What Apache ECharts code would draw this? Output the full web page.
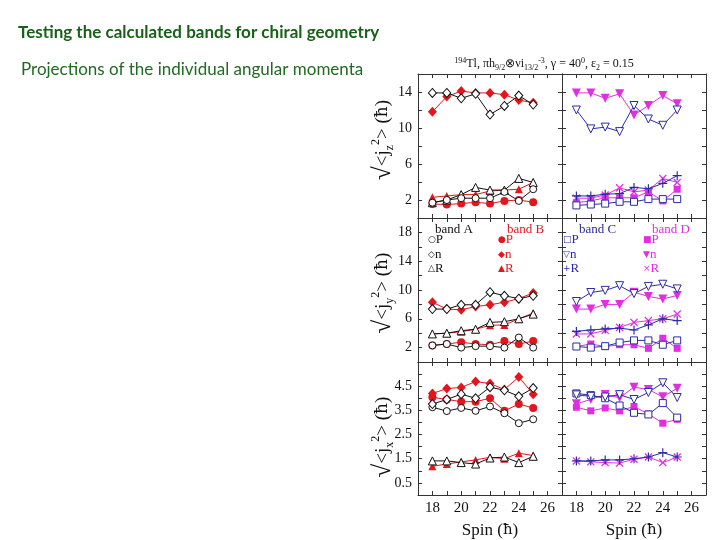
<!DOCTYPE html>
<html><head><meta charset="utf-8">
<script src="https://cdn.jsdelivr.net/npm/echarts@6/dist/echarts.min.js"></script>
<style>html,body{margin:0;padding:0;background:#fff}#c{width:720px;height:540px}</style>
</head><body><div id="c"></div>
<script>
const spins = [18,19,20,21,22,23,24,25];
const xTickLabels = [18,20,22,24,26];
// <j_z^2>^(1/2)
const jz_A_P = [1.7,2.0,2.2,2.2,2.2,2.9,1.9,3.2];
const jz_A_n = [13.9,13.9,13.3,13.8,11.5,12.45,13.6,12.6];
const jz_A_R = [1.7,2.0,2.6,3.4,3.1,3.1,4.4,3.95];
const jz_B_P = [1.55,1.5,1.6,1.75,1.6,1.9,2.0,1.75];
const jz_B_n = [11.8,13.5,14.1,13.9,13.9,13.7,13.1,12.8];
const jz_B_R = [2.3,2.45,2.6,2.6,3.0,3.1,3.2,3.95];
const jz_C_P = [1.4,1.5,1.6,1.8,1.8,2.1,2.1,2.1];
const jz_C_n = [12.0,9.9,10.1,9.6,12.5,11.0,10.3,12.0];
const jz_C_R = [2.45,2.45,2.65,2.7,3.4,3.25,3.85,4.7];
const jz_D_P = [1.7,1.9,2.25,2.25,2.25,2.9,1.9,3.2];
const jz_D_n = [13.9,13.9,13.3,13.8,11.45,12.5,13.6,12.7];
const jz_D_R = [2.2,2.2,2.55,3.35,2.9,3.1,4.4,3.95];
// <j_y^2>^(1/2)
const jy_A_P = [2.3,2.5,2.0,2.2,2.2,2.0,3.4,2.0];
const jy_A_n = [7.35,7.35,7.95,7.95,9.7,9.2,8.8,9.2];
const jy_A_R = [3.9,4.0,4.35,4.55,5.5,5.6,6.0,6.65];
const jy_B_P = [2.3,2.5,2.75,2.5,2.4,2.9,2.5,2.9];
const jy_B_n = [8.3,7.35,7.25,7.7,7.95,8.3,8.8,9.6];
const jy_B_R = [3.9,4.0,4.2,4.55,5.1,5.15,6.0,6.8];
const jy_C_P = [2.15,2.0,2.2,2.7,3.0,3.0,2.4,3.0];
const jy_C_n = [8.4,9.65,9.95,10.6,9.5,10.5,10.8,10.15];
const jy_C_R = [4.25,4.45,4.6,4.7,4.45,5.15,6.0,5.75];
const jy_D_P = [2.15,2.5,2.15,2.4,2.4,1.9,3.3,1.9];
const jy_D_n = [7.35,7.35,8.0,8.0,9.7,9.1,8.75,9.25];
const jy_D_R = [3.9,3.9,4.4,4.8,5.5,5.75,6.0,6.65];
// <j_x^2>^(1/2)
const jx_A_P = [3.63,3.47,3.6,3.48,3.66,3.38,2.97,3.13];
const jx_A_n = [3.76,3.95,4.17,4.0,4.46,4.33,4.08,4.42];
const jx_A_R = [1.41,1.41,1.34,1.28,1.53,1.57,1.34,1.6];
const jx_B_P = [4.04,3.95,3.86,3.86,4.0,3.48,3.76,3.6];
const jx_B_n = [4.2,4.4,4.45,4.69,4.61,4.36,4.88,4.17];
const jx_B_R = [1.19,1.28,1.37,1.45,1.56,1.5,1.73,1.63];
const jx_C_P = [4.2,4.13,4.0,3.7,3.4,3.33,3.8,3.2];
const jx_C_n = [4.14,4.08,4.05,4.15,3.95,4.24,4.64,4.03];
const jx_C_R = [1.41,1.41,1.45,1.45,1.5,1.57,1.75,1.57];
const jx_D_P = [3.63,3.48,3.6,3.48,3.66,3.35,2.97,3.13];
const jx_D_n = [3.77,3.95,4.16,4.02,4.46,4.36,4.06,4.41];
const jx_D_R = [1.41,1.37,1.34,1.32,1.48,1.57,1.34,1.57];

const COL = {A:'#111111', B:'#e3161d', C:'#2b2ba6', D:'#e02ee0'};
const PLUS = 'path://M4.35,0H5.65V4.35H10V5.65H5.65V10H4.35V5.65H0V4.35H4.35Z';
// [symbol, rotate, hollow, size]
const SYM = {
  A:{P:['circle',0,true,7], n:['diamond',0,true,[8,9]], R:['triangle',0,true,8]},
  B:{P:['circle',0,false,8], n:['diamond',0,false,[9,10]], R:['triangle',0,false,8]},
  C:{P:['rect',0,true,7], n:['triangle',180,true,8], R:[PLUS,0,false,9]},
  D:{P:['rect',0,false,7], n:['triangle',180,false,9], R:[PLUS,45,false,10]}
};
const panels = [
  {g:0, bands:['A','B'], d:{A:{P:jz_A_P,n:jz_A_n,R:jz_A_R}, B:{P:jz_B_P,n:jz_B_n,R:jz_B_R}}},
  {g:1, bands:['C','D'], d:{C:{P:jz_C_P,n:jz_C_n,R:jz_C_R}, D:{P:jz_D_P,n:jz_D_n,R:jz_D_R}}},
  {g:2, bands:['A','B'], d:{A:{P:jy_A_P,n:jy_A_n,R:jy_A_R}, B:{P:jy_B_P,n:jy_B_n,R:jy_B_R}}},
  {g:3, bands:['C','D'], d:{C:{P:jy_C_P,n:jy_C_n,R:jy_C_R}, D:{P:jy_D_P,n:jy_D_n,R:jy_D_R}}},
  {g:4, bands:['A','B'], d:{A:{P:jx_A_P,n:jx_A_n,R:jx_A_R}, B:{P:jx_B_P,n:jx_B_n,R:jx_B_R}}},
  {g:5, bands:['C','D'], d:{C:{P:jx_C_P,n:jx_C_n,R:jx_C_R}, D:{P:jx_D_P,n:jx_D_n,R:jx_D_R}}}
];
const yRanges = [[0,16,2],[0,16,2],[0,20,2],[0,20,2],[0,5.5,0.5],[0,5.5,0.5]];

const L = [418, 562], T = [74, 218, 362], W = 144, H = 144;
const grids = [], xAxes = [], yAxes = [], series = [];
const SERIF = 'Liberation Serif';
const AX = '#333';
for (let g = 0; g < 6; g++) {
  const col = g % 2, row = Math.floor(g / 2);
  grids.push({left: L[col], top: T[row], width: W, height: H});
  const bottomRow = row === 2;
  ['bottom','top'].forEach((pos, k) => {
    xAxes.push({type:'value', gridIndex:g, position:pos, min:17, max:27, interval:1,
      axisLine:{show:true, onZero:false, lineStyle:{color:AX, width:1}},
      axisTick:{show:true, inside:true, length:4, lineStyle:{color:AX}},
      axisLabel:{show: bottomRow && k === 0, margin:6, fontFamily:SERIF, fontSize:15, color:'#111',
        formatter: v => xTickLabels.indexOf(v) >= 0 ? String(v) : ''},
      splitLine:{show:false},
      name: (bottomRow && k === 0) ? '{t|Spin (}{h|ħ}{t|)}' : '', nameLocation:'middle', nameGap:27,
      nameTextStyle:{fontFamily:SERIF, fontSize:17, color:'#111',
        rich:{t:{fontFamily:SERIF, fontSize:17, color:'#111'}, h:{fontFamily:'DejaVu Serif', fontSize:15, color:'#111'}}}});
  });
  const yr = yRanges[g];
  ['left','right'].forEach((pos, k) => {
    yAxes.push({type:'value', gridIndex:g, position:pos, min:yr[0], max:yr[1], interval:yr[2],
      axisLine:{show:true, onZero:false, lineStyle:{color:AX, width:1}},
      axisTick:{show:true, inside:true, length:4, lineStyle:{color:AX}},
      axisLabel:{show: col === 0 && k === 0, margin:6, fontFamily:SERIF, fontSize:14, color:'#111',
        formatter: v => {
          if (yr[2] === 2) return ((v - 2) % 4 === 0 && v < yr[1]) ? String(v) : '';
          return (Math.abs((v - 0.5) % 1) < 1e-6 && v < 5) ? v.toFixed(1) : '';
        }},
      splitLine:{show:false}});
  });
}
panels.forEach(p => {
  p.bands.forEach(b => {
    ['R','P','n'].forEach(q => {
      const s = SYM[b][q];
      series.push({type:'line', name: b + ' ' + q, xAxisIndex: 2*p.g, yAxisIndex: 2*p.g,
        data: spins.map((x, i) => [x, p.d[b][q][i]]),
        symbol: s[0], symbolRotate: s[1], symbolSize: s[3],
        lineStyle:{color: COL[b], width:1}, color: COL[b],
        itemStyle: s[2] ? {color:'#fff', borderColor: COL[b], borderWidth: 1} : {color: COL[b], borderWidth:0},
        silent:true, animation:false, z: b === 'A' || b === 'C' ? 3 : 2});
    });
  });
});

function yName(letter, cy) {
  return {type:'text', x:383, y:cy, rotation: Math.PI/2,
    style:{text:'{r|√}{t|<j}{s|' + letter + '}{p|2}{t|> (}{h|ħ}{t|)}', fill:'#111',
      align:'center', verticalAlign:'middle',
      rich:{r:{fontFamily:SERIF, fontSize:25, lineHeight:26, fill:'#111'},
            t:{fontFamily:SERIF, fontSize:19, lineHeight:26, fill:'#111'},
            h:{fontFamily:'DejaVu Serif', fontSize:17, lineHeight:26, fill:'#111'},
            s:{fontFamily:SERIF, fontSize:12, lineHeight:13, verticalAlign:'bottom', fill:'#111'},
            p:{fontFamily:SERIF, fontSize:12, lineHeight:13, verticalAlign:'top', fill:'#111'}}}};
}
function legendBlock(band, color, glyphs, xTitle, xItems) {
  const out = [{type:'text', x:xTitle, y:230, style:{text:'band ' + band, fill:color,
    font:'13px ' + SERIF, verticalAlign:'middle'}}];
  ['P','n','R'].forEach((q, i) => {
    out.push({type:'text', x:xItems, y:240 + i*14.2, style:{
      text:'{g|' + glyphs[i] + '}{t|' + q + '}', fill:color, verticalAlign:'middle',
      rich:{g:{fontFamily:'DejaVu Sans', fontSize:9, fill:color},
            t:{fontFamily:SERIF, fontSize:13, fill:color}}}});
  });
  return out;
}
const graphics = [
  {type:'text', x:18, y:33, style:{text:'Testing the calculated bands for chiral geometry',
    font:'bold 17px Lato', fill:'#196119', verticalAlign:'middle'}},
  {type:'text', x:21, y:70, style:{text:'Projections of the individual angular momenta',
    font:'17px Lato', fill:'#1f6b1f', verticalAlign:'middle'}},
  {type:'text', x:544, y:64, style:{
    text:'{sp|194}{t|Tl, πh}{sb|9/2}{t|⊗νi}{sb|13/2}{sp|-3}{t|, γ = 40}{sp|0}{t|, ε}{sb|2}{t| = 0.15}',
    align:'center', verticalAlign:'middle', fill:'#111',
    rich:{t:{fontFamily:SERIF, fontSize:12, lineHeight:15, fill:'#111'},
          sp:{fontFamily:SERIF, fontSize:8, lineHeight:9, verticalAlign:'top', fill:'#111'},
          sb:{fontFamily:SERIF, fontSize:8, lineHeight:9, verticalAlign:'bottom', fill:'#111'}}}},
  yName('z', 140), yName('y', 293), yName('x', 437)
].concat(
  legendBlock('A', COL.A, ['○','◇','△'], 435, 428),
  legendBlock('B', COL.B, ['●','◆','▲'], 507, 498),
  legendBlock('C', COL.C, ['□','▽','+'], 579, 563),
  legendBlock('D', COL.D, ['■','▼','×'], 652, 643)
);

const chart = echarts.init(document.getElementById('c'), null, {renderer:'canvas'});
chart.setOption({animation:false, backgroundColor:'#fff', grid:grids, xAxis:xAxes, yAxis:yAxes,
  series:series, graphic:graphics});
</script></body></html>
